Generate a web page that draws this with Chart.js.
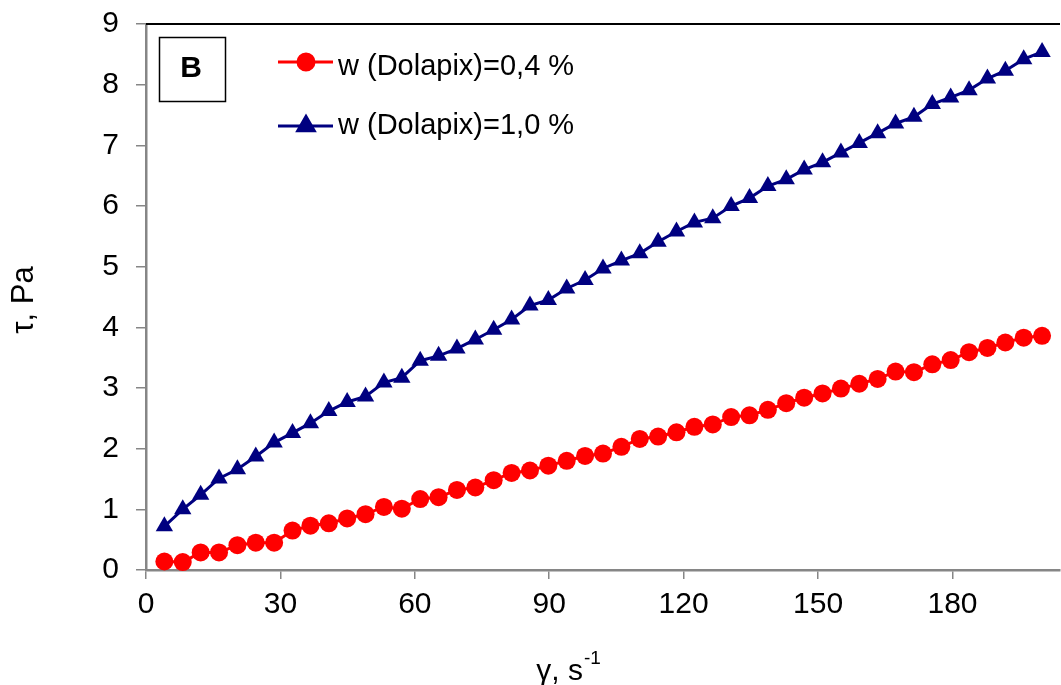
<!DOCTYPE html>
<html>
<head>
<meta charset="utf-8">
<script src="https://cdn.jsdelivr.net/npm/chart.js@4.4.1/dist/chart.umd.min.js"></script>
<style>
  html, body { margin: 0; padding: 0; background: #fff; }
  #wrap { width: 1061px; height: 685px; }
</style>
</head>
<body>
<div id="wrap"><canvas id="flowCurve" width="1061" height="685"></canvas></div>
<script>
// shear rate, s-1
const shearRate = [4.1, 8.2, 12.2, 16.3, 20.4, 24.5, 28.6, 32.7, 36.7, 40.8,
    44.9, 49.0, 53.1, 57.1, 61.2, 65.3, 69.4, 73.5, 77.6, 81.6,
    85.7, 89.8, 93.9, 98.0, 102.0, 106.1, 110.2, 114.3, 118.4, 122.4,
    126.5, 130.6, 134.7, 138.8, 142.9, 146.9, 151.0, 155.1, 159.2, 163.3,
    167.3, 171.4, 175.5, 179.6, 183.7, 187.8, 191.8, 195.9, 200.0];
// shear stress, Pa
const tauDolapix04 = [0.14, 0.13, 0.29, 0.29, 0.41, 0.45, 0.45, 0.65, 0.73, 0.77,
    0.85, 0.92, 1.04, 1.01, 1.17, 1.20, 1.32, 1.36, 1.48, 1.60,
    1.64, 1.72, 1.80, 1.88, 1.92, 2.03, 2.16, 2.20, 2.27, 2.36,
    2.40, 2.52, 2.55, 2.64, 2.75, 2.84, 2.91, 2.99, 3.07, 3.15,
    3.27, 3.26, 3.39, 3.46, 3.59, 3.66, 3.75, 3.83, 3.86];
const tauDolapix10 = [0.72, 1.00, 1.24, 1.51, 1.66, 1.87, 2.10, 2.26, 2.42, 2.62,
    2.77, 2.86, 3.09, 3.17, 3.45, 3.53, 3.65, 3.80, 3.96, 4.13,
    4.36, 4.45, 4.64, 4.78, 4.97, 5.10, 5.22, 5.41, 5.58, 5.73,
    5.80, 6.00, 6.13, 6.33, 6.44, 6.60, 6.72, 6.88, 7.04, 7.20,
    7.36, 7.47, 7.68, 7.79, 7.91, 8.10, 8.23, 8.42, 8.54];
const seriesNames = ['w (Dolapix)=0,4 %', 'w (Dolapix)=1,0 %'];
const xTickValues = [0, 30, 60, 90, 120, 150, 180];
const yTickValues = [0, 1, 2, 3, 4, 5, 6, 7, 8, 9];

const RED = '#ff0000';
const NAVY = '#000080';
const AXIS = '#868686';
const FONT = '"Liberation Sans", Arial, sans-serif';

const pts = (xs, ys) => xs.map((x, i) => ({ x: x, y: ys[i] }));

// frame, panel letter, legend and axis titles drawn on top of the chart
const decor = {
    id: 'decor',
    afterDraw(chart) {
        const ctx = chart.ctx;
        const a = chart.chartArea;
        ctx.save();
        // top frame line
        ctx.strokeStyle = '#000';
        ctx.lineWidth = 2;
        ctx.beginPath();
        ctx.moveTo(a.left, a.top);
        ctx.lineTo(a.right, a.top);
        ctx.stroke();

        // "B" box
        ctx.lineWidth = 1.5;
        ctx.strokeRect(159.5, 37.5, 66, 64);
        ctx.fillStyle = '#000';
        ctx.font = 'bold 30px ' + FONT;
        ctx.textAlign = 'center';
        ctx.textBaseline = 'alphabetic';
        ctx.fillText('B', 191, 77);

        // legend
        const rows = [
            { y: 62, base: 75, color: RED, style: 'circle', r: 8 },
            { y: 126, base: 134, color: NAVY, style: 'triangle', r: 9.5 }
        ];
        rows.forEach((row, i) => {
            ctx.strokeStyle = row.color;
            ctx.lineWidth = 3;
            ctx.beginPath();
            ctx.moveTo(278, row.y);
            ctx.lineTo(333, row.y);
            ctx.stroke();
            Chart.helpers.drawPoint(ctx, {
                pointStyle: row.style, radius: row.r, rotation: 0, borderWidth: 1
            }, 306, row.y);
            ctx.fillStyle = row.color;
            ctx.strokeStyle = row.color;
            ctx.lineWidth = 1;
            ctx.fill();
            ctx.stroke();
            ctx.fillStyle = '#000';
            ctx.font = '29px ' + FONT;
            ctx.textAlign = 'left';
            ctx.fillText(seriesNames[i], 338, row.base);
        });

        // y title
        ctx.save();
        ctx.translate(33, 300);
        ctx.rotate(-Math.PI / 2);
        ctx.font = '31px ' + FONT;
        ctx.textAlign = 'center';
        ctx.fillText('\u03c4, Pa', 0, 0);
        ctx.restore();

        // x title with superscript
        ctx.font = '30px ' + FONT;
        const main = '\u03b3, s';
        const w1 = ctx.measureText(main).width;
        ctx.font = '19px ' + FONT;
        const w2 = ctx.measureText('-1').width;
        const x0 = 568 - (w1 + w2) / 2;
        ctx.textAlign = 'left';
        ctx.font = '30px ' + FONT;
        ctx.fillText(main, x0, 680);
        ctx.font = '19px ' + FONT;
        ctx.fillText('-1', x0 + w1 + 1, 664);
        ctx.restore();
    }
};

new Chart(document.getElementById('flowCurve'), {
    type: 'line',
    data: {
        datasets: [{
            label: seriesNames[0],
            data: pts(shearRate, tauDolapix04),
            borderColor: RED,
            backgroundColor: RED,
            borderWidth: 3,
            pointStyle: 'circle',
            pointRadius: 9,
            pointBorderWidth: 0,
            pointBackgroundColor: RED,
            tension: 0,
            clip: false
        }, {
            label: seriesNames[1],
            data: pts(shearRate, tauDolapix10),
            borderColor: NAVY,
            backgroundColor: NAVY,
            borderWidth: 3,
            pointStyle: 'triangle',
            pointRadius: 10,
            pointBorderWidth: 0,
            pointBackgroundColor: NAVY,
            tension: 0,
            clip: false
        }]
    },
    options: {
        responsive: false,
        animation: false,
        layout: { autoPadding: false, padding: { top: 24, right: 1, left: 0, bottom: 0 } },
        plugins: {
            legend: { display: false },
            tooltip: { enabled: false }
        },
        scales: {
            x: {
                type: 'linear',
                min: 0,
                max: 204,
                afterBuildTicks: (s) => { s.ticks = xTickValues.map(v => ({ value: v })); },
                afterFit: (s) => { s.height = 115; s.paddingRight = 0; s.paddingLeft = 0; },
                border: { color: AXIS, width: 2.5 },
                grid: { drawOnChartArea: false, color: AXIS, lineWidth: 1.5, tickLength: 9 },
                ticks: { color: '#000', font: { family: FONT, size: 30 }, padding: 8, maxRotation: 0 }
            },
            y: {
                type: 'linear',
                min: 0,
                max: 9,
                afterBuildTicks: (s) => { s.ticks = yTickValues.map(v => ({ value: v })); },
                afterFit: (s) => { s.width = 146; s.paddingTop = 0; s.paddingBottom = 0; },
                border: { color: AXIS, width: 2.5 },
                grid: { drawOnChartArea: false, color: AXIS, lineWidth: 1.5, tickLength: 10 },
                ticks: { color: '#000', font: { family: FONT, size: 30 }, padding: 17 }
            }
        }
    },
    plugins: [decor]
});
</script>
</body>
</html>
